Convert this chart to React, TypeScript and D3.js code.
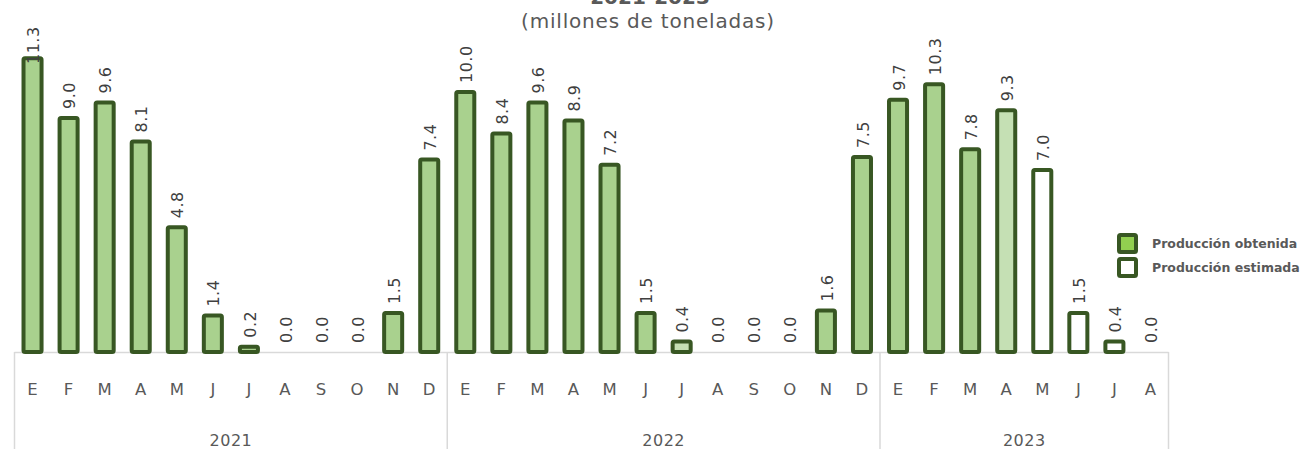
import { useMemo } from "react";
import * as d3 from "d3";

const WIDTH = 1304;
const HEIGHT = 449;
const FONT = "'DejaVu Sans', 'Noto Sans', sans-serif";

const YEARS = ["2021", "2022", "2023"];
const MONTHS = ["E", "F", "M", "A", "M", "J", "J", "A", "S", "O", "N", "D"];

// producción obtenida
const OBTAINED_2021 = [11.3, 9.0, 9.6, 8.1, 4.8, 1.4, 0.2, 0.0, 0.0, 0.0, 1.5, 7.4];
const OBTAINED_2022 = [10.0, 8.4, 9.6, 8.9, 7.2, 1.5, 0.4, 0.0, 0.0, 0.0, 1.6, 7.5];
const OBTAINED_2023 = [9.7, 10.3, 7.8, 9.3];
// producción estimada (continúa 2023 desde mayo)
const ESTIMATED_2023 = [7.0, 1.5, 0.4, 0.0];

const LEGEND = ["Producción obtenida", "Producción estimada"];
const LIGHT_POINTS = ["2022-6", "2023-3"];

const STROKE = "#385723";
const FILL = "#a9d18e";
const FILL_LIGHT = "#c5e0b4";
const LEGEND_FILL = "#92d050";
const TEXT = "#595959";

const PLOT = { left: 14.5, right: 1168.5, base: 352, top: 40 };

type Bar = { key: string; year: string; month: string; value: number; estimated: boolean };

export default function App() {
    const bars: Bar[] = useMemo(() => {
        const out: Bar[] = [];
        const push = (year: string, vals: number[], offset: number, estimated: boolean) =>
            vals.forEach((v, i) =>
                out.push({ key: `${year}-${i + offset}`, year, month: MONTHS[i + offset], value: v, estimated })
            );
        push("2021", OBTAINED_2021, 0, false);
        push("2022", OBTAINED_2022, 0, false);
        push("2023", OBTAINED_2023, 0, false);
        push("2023", ESTIMATED_2023, OBTAINED_2023.length, true);
        return out;
    }, []);

    const xScale = d3
        .scaleBand<string>()
        .domain(bars.map((b) => b.key))
        .range([PLOT.left, PLOT.right])
        .paddingInner(0.5)
        .paddingOuter(0.25);

    const yScale = d3.scaleLinear().domain([0, 12]).range([PLOT.base, PLOT.top]);
    const step = xScale.step();

    // year group boundaries
    const groups = YEARS.map((year) => {
        const keys = bars.filter((b) => b.year === year).map((b) => b.key);
        const x0 = xScale(keys[0])! - (step - xScale.bandwidth()) / 2;
        const x1 = x0 + keys.length * step;
        return { year, x0, x1 };
    });

    return (
        <div style={{ position: "fixed", left: 0, top: 0 }}>
            <svg width={WIDTH} height={HEIGHT} style={{ display: "block", background: "#fff" }} fontFamily={FONT}>
                <text x={650} y={4} textAnchor="middle" fontSize={20} fontWeight="bold" fill={TEXT}>
                    2021-2023
                </text>
                <text x={648} y={28} textAnchor="middle" fontSize={20} letterSpacing={0.8} fill={TEXT}>
                    (millones de toneladas)
                </text>

                {/* axis */}
                <line x1={PLOT.left} x2={PLOT.right} y1={PLOT.base + 0.5} y2={PLOT.base + 0.5} stroke="#d9d9d9" strokeWidth={1.5} />
                {groups.map((g, i) => (
                    <g key={g.year}>
                        {i === 0 && <line x1={g.x0} x2={g.x0} y1={PLOT.base} y2={HEIGHT} stroke="#d9d9d9" strokeWidth={1.5} />}
                        <line x1={g.x1} x2={g.x1} y1={PLOT.base} y2={HEIGHT} stroke="#d9d9d9" strokeWidth={1.5} />
                        <text x={(g.x0 + g.x1) / 2} y={446} textAnchor="middle" fontSize={16} letterSpacing={0.5} fill={TEXT}>
                            {g.year}
                        </text>
                    </g>
                ))}

                {bars.map((b) => {
                    const x = xScale(b.key)!;
                    const cx = x + xScale.bandwidth() / 2;
                    const y = yScale(b.value);
                    const fill = b.estimated ? "#ffffff" : LIGHT_POINTS.includes(b.key) ? FILL_LIGHT : FILL;
                    const label = b.value.toFixed(1);
                    const len = label.length * 9.5;
                    const ly = Math.max(y - 9, 26 + len);
                    return (
                        <g key={b.key}>
                            {b.value > 0 && (
                                <rect
                                    x={x}
                                    y={y}
                                    width={xScale.bandwidth()}
                                    height={PLOT.base - y}
                                    fill={fill}
                                    stroke={STROKE}
                                    strokeWidth={4}
                                    rx={1.5}
                                />
                            )}
                            <text
                                transform={`translate(${cx + 1},${ly}) rotate(-90)`}
                                dy="0.35em"
                                fontSize={16}
                                letterSpacing={0.5}
                                fill="#404040"
                            >
                                {label}
                            </text>
                            <text x={cx} y={395} textAnchor="middle" fontSize={16.5} fill={TEXT}>
                                {b.month}
                            </text>
                        </g>
                    );
                })}

                {/* legend */}
                {LEGEND.map((name, i) => (
                    <g key={name} transform={`translate(1119,${235 + i * 24})`}>
                        <rect
                            x={0}
                            y={0}
                            width={17}
                            height={17}
                            rx={1.5}
                            fill={i === 0 ? LEGEND_FILL : "#ffffff"}
                            stroke={STROKE}
                            strokeWidth={4}
                        />
                        <text x={33} y={9} dy="0.35em" fontSize={12.5} fontWeight="bold" fill={TEXT}>
                            {name}
                        </text>
                    </g>
                ))}
            </svg>
        </div>
    );
}
